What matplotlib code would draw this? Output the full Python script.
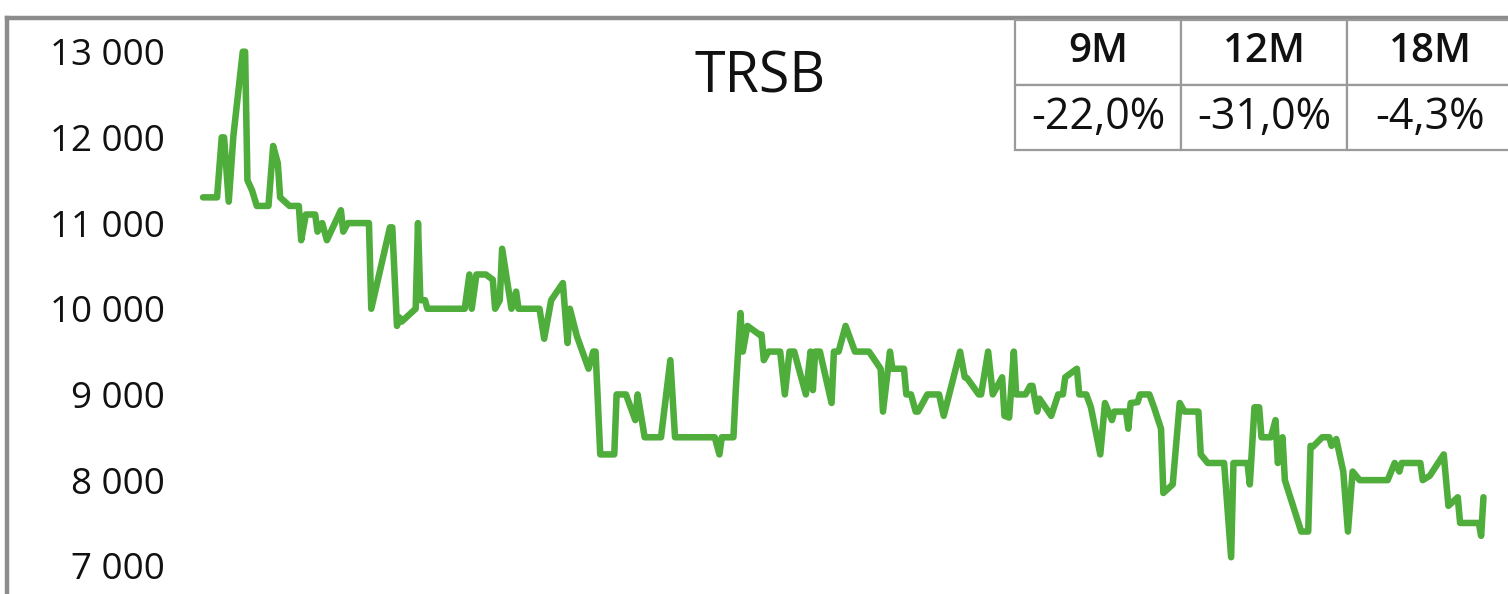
import numpy as np
import matplotlib
matplotlib.use('Agg')
import matplotlib.pyplot as plt

# --- data (days from start, price) ---
days = [0, 6, 8, 9, 11, 13, 17, 18, 19, 21, 23, 28, 30, 32, 33, 37, 41, 42, 44, 48,
        49, 51, 53, 59, 60, 62, 71, 72, 80, 81, 83, 84, 85, 91, 92, 93, 95, 96, 112, 114,
        115, 117, 121, 124, 125, 127, 128, 132, 134, 135, 144, 146, 149, 154, 156, 157, 160, 165, 167, 168,
        170, 176, 177, 181, 185, 186, 189, 196, 200, 202, 219, 221, 222, 227, 228, 230, 231, 233, 238, 239,
        240, 242, 247, 249, 251, 253, 258, 260, 261, 262, 264, 269, 270, 272, 275, 279, 285, 290, 291, 294,
        295, 300, 301, 303, 305, 306, 310, 315, 317, 324, 326, 327, 332, 333, 336, 338, 342, 343, 345, 347,
        348, 352, 354, 355, 357, 358, 363, 366, 368, 369, 374, 375, 378, 380, 384, 386, 389, 390, 395, 396,
        397, 400, 401, 405, 407, 410, 411, 415, 418, 420, 426, 427, 430, 437, 440, 441, 447, 448, 450, 452,
        453, 457, 459, 460, 462, 463, 470, 473, 474, 475, 479, 482, 483, 485, 488, 490, 492, 495, 507, 510,
        512, 513, 521, 522, 525, 531, 533, 537, 538, 546, 547, 548]
price = [11300, 11300, 12000, 12000, 11250, 12020, 13000, 13000, 11500, 11380, 11200, 11200, 11900, 11700, 11300, 11200, 11200, 10800, 11100, 11100,
         10900, 11000, 10800, 11150, 10900, 11000, 11000, 10000, 10950, 10950, 9800, 9900, 9850, 10000, 11000, 10100, 10100, 10000, 10000, 10400,
         10000, 10400, 10400, 10340, 10000, 10100, 10700, 10000, 10200, 10000, 10000, 9650, 10100, 10300, 9600, 10000, 9680, 9300, 9500, 9500,
         8300, 8300, 9000, 9000, 8700, 9000, 8500, 8500, 9400, 8500, 8500, 8300, 8500, 8500, 9050, 9950, 9500, 9800, 9700, 9700,
         9400, 9500, 9500, 9000, 9500, 9500, 9000, 9500, 9050, 9500, 9500, 8900, 9500, 9500, 9800, 9500, 9500, 9300, 8800, 9500,
         9300, 9300, 9000, 9000, 8800, 8800, 9000, 9000, 8750, 9500, 9200, 9190, 9000, 9000, 9500, 9000, 9200, 8750, 8730, 9500,
         9000, 9000, 9100, 9100, 8800, 8950, 8750, 9000, 9000, 9200, 9300, 9000, 9000, 8850, 8300, 8900, 8700, 8800, 8800, 8600,
         8900, 8910, 9000, 9000, 8850, 8600, 7850, 7950, 8900, 8800, 8800, 8300, 8200, 8200, 7100, 8200, 8200, 7950, 8850, 8850,
         8500, 8500, 8700, 8200, 8500, 8000, 7400, 7400, 8400, 8390, 8500, 8500, 8400, 8480, 8100, 7400, 8100, 8000, 8000, 8200,
         8100, 8200, 8200, 8000, 8050, 8300, 7700, 7800, 7500, 7500, 7350, 7800]

title = 'TRSB'
periods = ['9M', '12M', '18M']
changes = ['-22,0%', '-31,0%', '-4,3%']
yticks = [7000, 8000, 9000, 10000, 11000, 12000, 13000]

GREEN = '#4fad3b'
GREY = '#8c8c8c'
FONT = ['Open Sans', 'DejaVu Sans']

plt.rcParams['font.family'] = FONT

fig = plt.figure(figsize=(15.08, 5.94), dpi=100)
ax = fig.add_axes([7 / 1508, 0, 1501 / 1508, (594 - 17.5) / 594])

ax.plot(days, price, color=GREEN, lw=4.7, solid_joinstyle='round', solid_capstyle='round')

ax.set_xlim(-83.9, 558.5)
ax.set_ylim(6671, 13399)

ax.set_xticks([])
ax.set_yticks(yticks)
ax.set_yticklabels([f'{v:,}'.replace(',', ' ') for v in yticks])
ax.tick_params(axis='y', length=0, pad=-113.8, labelsize=26.5, labelcolor='#111111')

for s in ['right', 'bottom']:
    ax.spines[s].set_visible(False)
for s in ['left', 'top']:
    ax.spines[s].set_color(GREY)
    ax.spines[s].set_linewidth(3.2)

ax.text((760 - 7) / 1501, 1 - (78 - 17.5) / 576.5, title, transform=ax.transAxes,
        ha='center', va='center', fontsize=40, color='#111111')

# --- period table in the top-right corner ---
x0 = (1015 - 7) / 1501
w = 498 / 1501
y1 = 1 - (20 - 17.5) / 576.5
h = (150 - 20) / 576.5
tbl = ax.table(cellText=[periods, changes], cellLoc='center',
               bbox=[x0, y1 - h, w, h], zorder=5)
tbl.auto_set_font_size(False)
for (r, c), cell in tbl.get_celld().items():
    cell.set_edgecolor('#9a9a9a')
    cell.set_linewidth(1.6)
    cell.set_facecolor('white')
    txt = cell.get_text()
    txt.set_color('#111111')
    if r == 0:
        txt.set_fontsize(29)
        txt.set_fontweight('semibold')
    else:
        txt.set_fontsize(31)

fig.savefig('out.png', dpi=100)
